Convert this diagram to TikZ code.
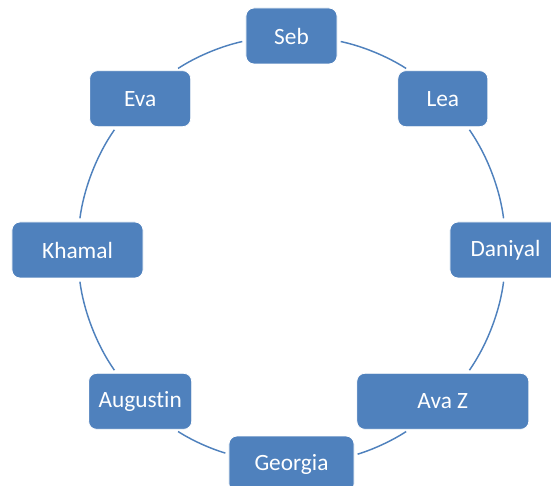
\documentclass[tikz,border=0pt]{standalone}
\usepackage{fontspec}
\setmainfont{Carlito}[Ligatures={NoCommon,NoContextual,NoRare,NoHistoric}]
\usepackage{tikz}
\usetikzlibrary{positioning}
\definecolor{boxblue}{HTML}{4F81BD}

\begin{document}
\begin{tikzpicture}[x=0.75pt,y=0.75pt,
        person/.style={rectangle, rounded corners=6pt, fill=boxblue, draw=white, line width=0.6pt,
            text=white, minimum height=42pt, inner sep=0pt,
            font=\fontsize{17.5}{21}\selectfont},
        link/.style={draw=boxblue, line width=1.1pt, looseness=0.85,
            shorten <=2.5pt, shorten >=2.5pt}]
        \useasboundingbox (-291.5,-236) rectangle (259.5,250);
        \node[person, minimum width=68.3pt]  (seb)      at (90:214)   {Seb};
        \node[person, minimum width=67.5pt]  (lea)      at (45:214)   {Lea};
        \node[person, minimum width=83.3pt]  (daniyal)  at (0:214)    {Daniyal};
        \node[person, minimum width=129pt]   (avaz)     at (-45:214)  {Ava Z};
        \node[person, minimum width=93.8pt]  (georgia)  at (-90:214)  {Georgia};
        \node[person, minimum width=77.3pt]  (augustin) at (-135:214) {Augustin};
        \node[person, minimum width=98.3pt]  (khamal)   at (180:214)  {Khamal};
        \node[person, minimum width=75.8pt]  (eva)      at (135:214)  {Eva};
        % arcs of the ring, each from box edge to box edge
        \draw[link] (seb.-6.1)       to[bend left=10.4]  (lea.140.9);
        \draw[link] (lea.-49.9)      to[bend left=13.85] (daniyal.93.7);
        \draw[link] (daniyal.-93.7)  to[bend left=13.85] (avaz.49.9);
        \draw[link] (avaz.-140.9)    to[bend left=8.05]  (georgia.8.5);
        \draw[link] (georgia.171.5)  to[bend left=8.05]  (augustin.-39.1);
        \draw[link] (augustin.130.1) to[bend left=13.85] (khamal.-86.3);
        \draw[link] (khamal.86.3)    to[bend left=13.85] (eva.-130.1);
        \draw[link] (eva.39.1)       to[bend left=10.4]  (seb.186.1);
    \end{tikzpicture}
\end{document}
